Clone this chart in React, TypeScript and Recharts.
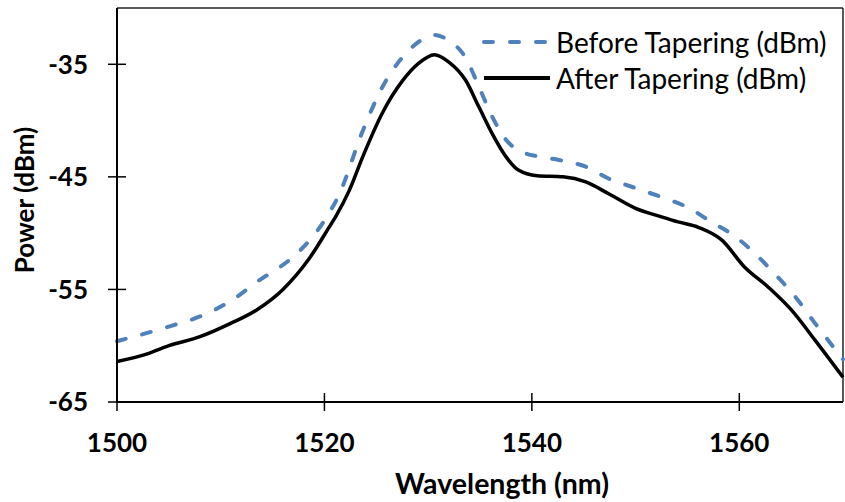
import { LineChart, Line, XAxis, YAxis, ReferenceLine, Label } from 'recharts';

const beforeWavelength = [
  1500, 1502.2, 1505, 1508, 1511, 1513.7, 1516.6, 1518.6, 1520.2, 1521.4, 1523.7, 1525.6, 1527.5, 1529.1,
  1530.6, 1532, 1533.6, 1534.9, 1536.2, 1537.5, 1539.1, 1540.7, 1542.6, 1545.2, 1547.4, 1550, 1552.5, 1555,
  1557.3, 1559.6, 1561.5, 1563.4, 1565.4, 1567.3, 1570,
];
const beforePower = [
  -59.6, -59.05, -58.3, -57.4, -56.0, -54.2, -52.4, -50.6, -48.6, -46.6, -40.9, -37.0, -34.4, -33.0,
  -32.4, -32.9, -34.4, -37.0, -39.7, -41.7, -42.8, -43.2, -43.5, -44.1, -45.15, -46.0, -46.8, -47.7,
  -49.0, -50.3, -51.8, -53.6, -55.65, -58.0, -61.2,
];

const afterWavelength = [
  1500, 1503, 1505, 1508, 1511, 1513.5, 1516, 1518.5, 1520.5, 1521.1, 1522.4, 1523.7, 1525.6, 1527.5,
  1529.1, 1530.6, 1532, 1533.6, 1534.9, 1536.2, 1537.5, 1538.7, 1540.5, 1543, 1545.2, 1547.4, 1550, 1552.5,
  1554.1, 1556.1, 1558.3, 1560.5, 1562.8, 1565, 1567.3, 1570,
];
const afterPower = [
  -61.4, -60.7, -60.0, -59.2, -58.0, -56.8, -55.0, -52.3, -49.4, -48.5, -46.2, -43.2, -39.3, -36.5,
  -34.9, -34.15, -34.8, -36.4, -38.8, -41.2, -43.2, -44.4, -44.9, -45.0, -45.45, -46.5, -47.8, -48.55,
  -49.0, -49.5, -50.6, -53.0, -54.8, -56.8, -59.5, -62.8,
];

const xTicks = [1500, 1520, 1540, 1560];
const yTicks = [-65, -55, -45, -35];

const beforeData = beforeWavelength.map((w, i) => ({ w, p: beforePower[i] }));
const afterData = afterWavelength.map((w, i) => ({ w, p: afterPower[i] }));

const FONT = "Lato, 'Open Sans', sans-serif";
const PLOT_LEFT = 117;
const PLOT_BOTTOM = 402;

const YTick = ({ y, payload }: any) => (
  <g>
    <line x1={PLOT_LEFT - 9} x2={PLOT_LEFT + 9} y1={y} y2={y} stroke="#000" strokeWidth={1.5} />
    <text x={88} y={y} dy="0.36em" textAnchor="end" fontFamily={FONT} fontWeight={700} fontSize={26} fill="#000">
      {payload.value}
    </text>
  </g>
);

const XTick = ({ x, payload }: any) => (
  <g>
    <line x1={x} x2={x} y1={PLOT_BOTTOM - 9} y2={PLOT_BOTTOM + 9} stroke="#000" strokeWidth={1.5} />
    <text x={x} y={443} dy="0.36em" textAnchor="middle" fontFamily={FONT} fontWeight={700} fontSize={26} fill="#000">
      {payload.value}
    </text>
  </g>
);

const legendItems = [
  { name: 'Before Tapering (dBm)', color: '#4F81BD', dash: '9 17' },
  { name: 'After Tapering (dBm)', color: '#000', dash: undefined },
];

// legend drawn as an overlay so it doesn't push the plot area down
const LegendBox = () => (
  <div style={{ position: 'absolute', left: 482, top: 24, fontFamily: FONT, fontSize: 28, color: '#000' }}>
    {legendItems.map((item) => (
      <div key={item.name} style={{ display: 'flex', alignItems: 'center', height: 36 }}>
        <svg width={74} height={36}>
          <line
            x1={2}
            x2={68}
            y1={18}
            y2={18}
            stroke={item.color}
            strokeWidth={4}
            strokeDasharray={item.dash}
            strokeLinecap={item.dash ? 'round' : 'butt'}
          />
        </svg>
        <span style={{ whiteSpace: 'nowrap', lineHeight: '36px' }}>{item.name}</span>
      </div>
    ))}
  </div>
);

export default function App() {
  return (
    <div style={{ position: 'absolute', left: 0, top: 0, width: 845, height: 502, background: '#fff' }}>
      <LineChart width={845} height={502} margin={{ top: 8, right: 2, bottom: 0, left: 0 }}>
        <XAxis
          type="number"
          dataKey="w"
          domain={[1500, 1570]}
          ticks={xTicks}
          height={100}
          tick={<XTick />}
          tickLine={false}
          axisLine={{ stroke: '#000', strokeWidth: 2 }}
        >
          <Label
            content={() => (
              <text x={502} y={484} dy="0.36em" textAnchor="middle" fontFamily={FONT} fontWeight={700} fontSize={28.5} fill="#000">
                Wavelength (nm)
              </text>
            )}
          />
        </XAxis>
        <YAxis
          type="number"
          domain={[-65, -30]}
          ticks={yTicks}
          width={117}
          tick={<YTick />}
          tickLine={false}
          axisLine={{ stroke: '#000', strokeWidth: 2 }}
        >
          <Label
            content={() => (
              <text
                x={25}
                y={200}
                dy="0.36em"
                textAnchor="middle"
                fontFamily={FONT}
                fontWeight={700}
                fontSize={26}
                fill="#000"
                transform="rotate(-90 25 200)"
              >
                Power (dBm)
              </text>
            )}
          />
        </YAxis>
        <ReferenceLine y={-30} stroke="#222" strokeWidth={1.5} />
        <ReferenceLine x={1570} stroke="#222" strokeWidth={1.5} />
        <Line
          data={beforeData}
          dataKey="p"
          name="Before Tapering (dBm)"
          type="monotone"
          stroke="#4F81BD"
          strokeWidth={4}
          strokeDasharray="9 17"
          strokeLinecap="round"
          dot={false}
          isAnimationActive={false}
        />
        <Line
          data={afterData}
          dataKey="p"
          name="After Tapering (dBm)"
          type="monotone"
          stroke="#000"
          strokeWidth={3.5}
          dot={false}
          isAnimationActive={false}
        />
      </LineChart>
      <LegendBox />
    </div>
  );
}
